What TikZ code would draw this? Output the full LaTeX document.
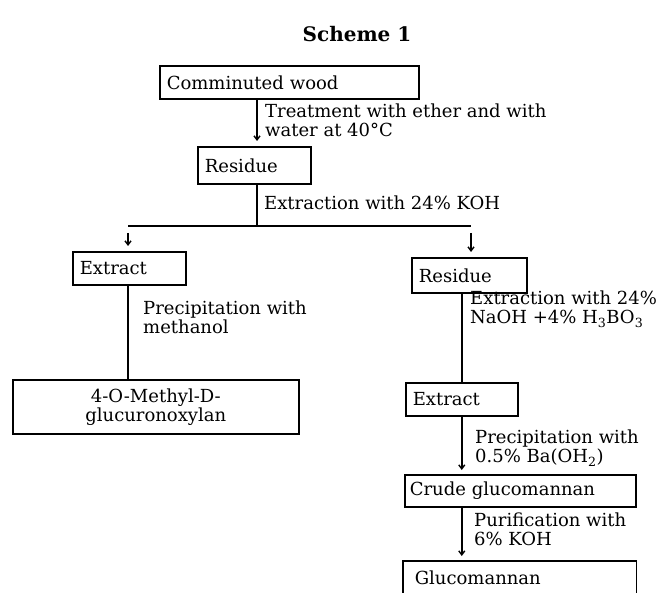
\documentclass[tikz,border=0pt]{standalone}
\usepackage{fontspec}
\setmainfont{DejaVu Serif}
\usetikzlibrary{arrows.meta}
\begin{document}
\begin{tikzpicture}[x=1pt,y=-1pt,
  every node/.style={font=\fontsize{18}{19}\selectfont},
  box/.style={draw, line width=1.6pt, anchor=north west, inner xsep=7pt, inner ysep=0pt, align=left},
  lbl/.style={anchor=north west, inner sep=0pt, align=left},
  ln/.style={line width=1.6pt},
  arr/.style={line width=1.4pt, -{Straight Barb[length=4pt,width=6pt]}}]
\useasboundingbox (0,0) rectangle (663,593);
% title
\node[anchor=base, font=\fontsize{20}{22}\selectfont\bfseries] (title) at (357,42) {Scheme 1};
% boxes
\node[box, text width=245pt, minimum height=33pt] (wood) at (159,65) {Comminuted wood};
\node[box, text width=99pt, minimum height=37pt] (res1) at (197,146) {Residue};
\node[box, text width=99pt, minimum height=33pt] (ext1) at (72,251) {Extract};
\node[box, text width=272pt, minimum height=54pt, align=center] (meth) at (12,379) {4-O-Methyl-D-\hspace*{14pt}\\glucuronoxylan\hspace*{14pt}};
\node[box, text width=101pt, minimum height=35pt] (res2) at (411,257) {Residue};
\node[box, text width=98pt, minimum height=33pt] (ext2) at (405,382) {Extract};
\node[box, inner xsep=5pt, text width=221pt, minimum height=32pt] (crude) at (404,474) {Crude glucomannan};
\node[box, draw=none, inner xsep=11pt, text width=210pt, minimum height=32pt] (gluc) at (403,561) {Glucomannan};
\draw[ln] (gluc.south west) -- (gluc.north west) -- (gluc.north east) -- (gluc.south east);
% junction
\coordinate (split) at (257,226);
\coordinate (sl) at (128,226);
\coordinate (sr) at (471,226);
% connectors
\draw[arr] (wood.south -| split) -- ([yshift=5pt]res1.north -| split);
\draw[ln] (res1.south -| split) -- (split);
\draw[ln] (sl) -- (sr);
\draw[arr] ([yshift=-7pt]sl) -- ([yshift=5pt]ext1.north -| sl);
\draw[arr] ([yshift=-7pt]sr) -- ([yshift=5pt]res2.north -| sr);
\draw[ln] (ext1.south -| sl) -- (meth.north -| sl);
\draw[ln] (res2.south -| ext2.north) -- (ext2.north);
\draw[arr] (ext2.south) -- ([yshift=4pt]crude.north -| ext2.south);
\draw[arr] (crude.south -| ext2.south) -- ([yshift=5pt]gluc.north -| ext2.south);
% labels
\node[lbl] (l1) at (265,104) {Treatment with ether and with\\water at 40°C};
\node[lbl] (l2) at (264,196) {Extraction with 24\% KOH};
\node[lbl] (l3) at (143,301) {Precipitation with\\methanol};
\node[lbl] (l4) at (470,291) {Extraction with 24\%\\NaOH +4\% H\textsubscript{3}BO\textsubscript{3}};
\node[lbl] (l5) at (475,430) {Precipitation with\\0.5\% Ba(OH\textsubscript{2})};
\node[lbl] (l6) at (474,513) {Purification with\\6\% KOH};
\end{tikzpicture}
\end{document}
